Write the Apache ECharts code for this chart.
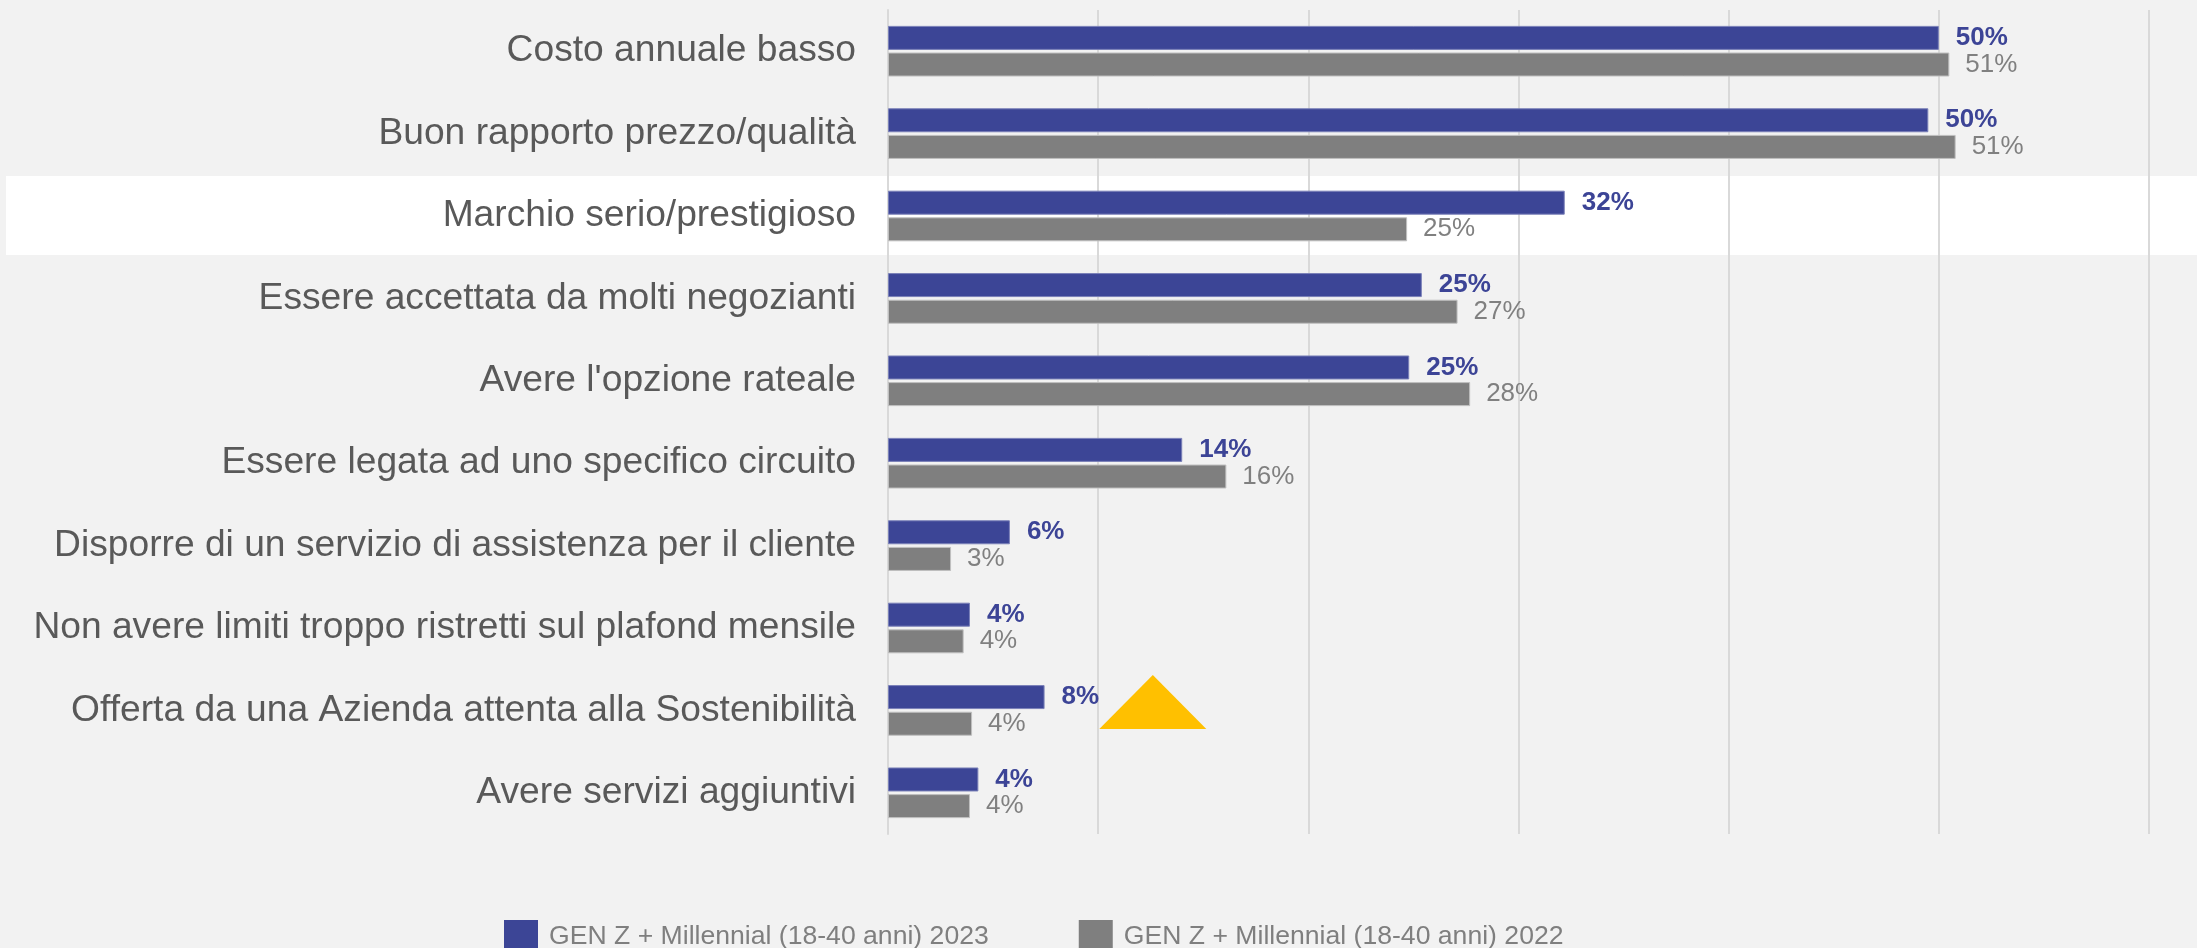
<!DOCTYPE html>
<html>
<head>
<meta charset="utf-8">
<script src="https://cdn.jsdelivr.net/npm/echarts@6/dist/echarts.min.js"></script>
<style>
  html, body { margin: 0; padding: 0; background: #f2f2f2; }
  #chart { width: 2197px; height: 948px; }
</style>
</head>
<body>
<div id="chart"></div>
<script>
// categories, top to bottom
const categories = [
  'Costo annuale basso',
  'Buon rapporto prezzo/qualità',
  'Marchio serio/prestigioso',
  'Essere accettata da molti negozianti',
  "Avere l'opzione rateale",
  'Essere legata ad uno specifico circuito',
  'Disporre di un servizio di assistenza per il cliente',
  'Non avere limiti troppo ristretti sul plafond mensile',
  'Offerta da una Azienda attenta alla Sostenibilità',
  'Avere servizi aggiuntivi'
]
const seriesNames = ['GEN Z + Millennial (18-40 anni) 2023', 'GEN Z + Millennial (18-40 anni) 2022']

// bar lengths and the printed labels
const values2023 = [50.0, 49.5, 32.2, 25.4, 24.8, 14.0, 5.8, 3.9, 7.45, 4.3]
const values2022 = [50.5, 50.8, 24.7, 27.1, 27.7, 16.1, 3.0, 3.6, 4.0, 3.9]
const labels2023 = [50, 50, 32, 25, 25, 14, 6, 4, 8, 4]
const labels2022 = [51, 51, 25, 27, 28, 16, 3, 4, 4, 4]

const highlightIndex = 2 // white band row
const arrowIndex = 8 // yellow triangle row
const arrowX = 12.6

const font = '"Liberation Sans", Arial, sans-serif'

const chart = echarts.init(document.getElementById('chart'))

const option = {
  backgroundColor: '#f2f2f2',
  animation: false,
  textStyle: { fontFamily: font },
  grid: {
    left: 888,
    right: 48,
    top: 10,
    bottom: 114,
    containLabel: false
  },
  legend: {
    left: 499,
    top: 915,
    itemWidth: 34,
    itemHeight: 34,
    itemGap: 90,
    icon: 'rect',
    itemStyle: { borderWidth: 0 },
    textStyle: { fontSize: 26.6, color: '#7f7f7f', fontFamily: font, padding: [0, 0, 0, 6] },
    data: seriesNames
  },
  xAxis: {
    type: 'value',
    min: 0,
    max: 60,
    interval: 10,
    axisLabel: { show: false },
    axisLine: { show: false },
    axisTick: { show: false },
    splitLine: { lineStyle: { color: '#d9d9d9', width: 2 } }
  },
  yAxis: {
    type: 'category',
    inverse: true,
    data: categories,
    axisTick: { show: false },
    axisLine: { lineStyle: { color: '#d9d9d9', width: 2 } },
    axisLabel: { fontSize: 37.2, color: '#595959', margin: 32, fontFamily: font }
  },
  series: [
    {
      name: seriesNames[0],
      type: 'bar',
      data: values2023,
      barWidth: 24,
      barGap: '11%',
      itemStyle: { color: '#3c4596', borderColor: '#7a80b8', borderWidth: 1 },
      label: {
        show: true,
        position: 'right',
        distance: 17,
        fontSize: 26,
        fontWeight: 'bold',
        color: '#3c4496',
        fontFamily: font,
        formatter: p => labels2023[p.dataIndex] + '%'
      },
      markPoint: {
        silent: true,
        symbol: 'triangle',
        symbolSize: [107, 54],
        symbolOffset: [0, 5],
        itemStyle: { color: '#ffc000', borderWidth: 0 },
        label: { show: false },
        data: [{ coord: [arrowX, categories[arrowIndex]] }]
      }
    },
    {
      name: seriesNames[1],
      type: 'bar',
      data: values2022,
      barWidth: 24,
      itemStyle: { color: '#7f7f7f', borderColor: '#bfbfbf', borderWidth: 1 },
      label: {
        show: true,
        position: 'right',
        distance: 16,
        fontSize: 26,
        color: '#808080',
        fontFamily: font,
        formatter: p => labels2022[p.dataIndex] + '%'
      }
    }
  ]
}

chart.setOption(option)

// white highlight band behind one row
const rowY = chart.convertToPixel({ yAxisIndex: 0 }, categories[highlightIndex])
chart.setOption({
  graphic: [{
    type: 'rect',
    z: -10,
    silent: true,
    shape: { x: 6, y: rowY - 40, width: 2191, height: 79 },
    style: { fill: '#ffffff' }
  }]
})
</script>
</body>
</html>
